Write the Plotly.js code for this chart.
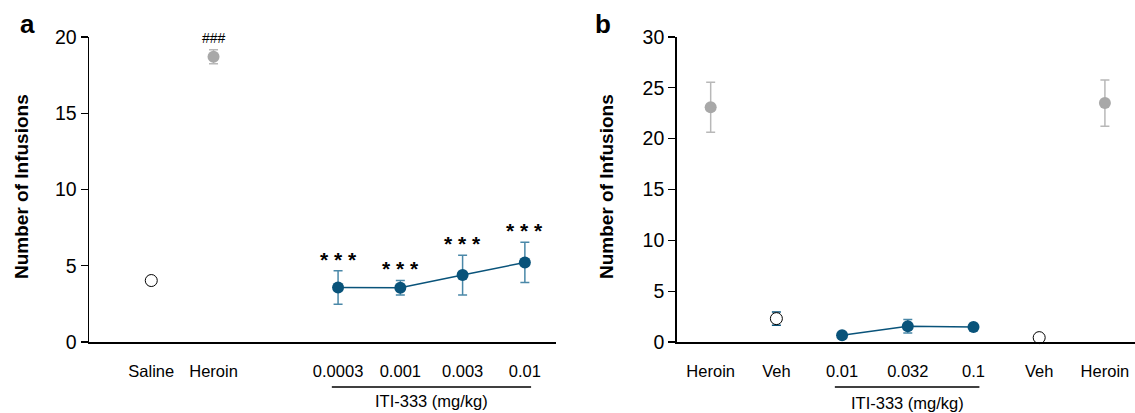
<!DOCTYPE html>
<html>
<head>
<meta charset="utf-8">
<script src="https://cdn.plot.ly/plotly-3.0.1.min.js"></script>
<style>
  html, body { margin: 0; padding: 0; background: #fff; }
  #chart { width: 1135px; height: 413px; }
</style>
</head>
<body>
<div id="chart"></div>
<script>
// ---------- Data ----------
// Panel a
const labelsA = ['Saline', 'Heroin', '0.0003', '0.001', '0.003', '0.01'];
const salineA = [4.03];
const heroinA = [18.71];
const heroinErrA = [0.46];
const itiA = [3.57, 3.56, 4.39, 5.22];
const itiErrA = [1.1, 0.48, 1.3, 1.32];
const sigA = ['* * *', '* * *', '* * *', '* * *'];
const heroinSigA = '###';

// Panel b
const labelsB = ['Heroin', 'Veh', '0.01', '0.032', '0.1', 'Veh', 'Heroin'];
const heroinB = [23.08, 23.5];
const heroinErrB = [2.46, 2.27];
const vehB = [2.3, 0.43];
const vehErrB = [0.65, 0];
const itiB = [0.66, 1.55, 1.48];
const itiErrB = [0.1, 0.67, 0.1];

const doseTitle = 'ITI-333 (mg/kg)';
const yTitle = 'Number of Infusions';

// ---------- Layout positions (not data) ----------
const posA = [0, 1, 3, 4, 5, 6];      // Saline, Heroin, 4 doses
const posB = [0, 1, 2, 3, 4, 5, 6];   // Heroin, Veh, 3 doses, Veh, Heroin

const TEAL = '#09537a';
const TEAL_ERR = '#4a88a8';
const GREY = '#a8a8a8';
const GREY_ERR = '#b8b8b8';
const FONT = 'Liberation Sans, Arial, Helvetica, sans-serif';

const traces = [
  // Panel a
  { x: [posA[0]], y: salineA, type: 'scatter', mode: 'markers', xaxis: 'x', yaxis: 'y',
    marker: { size: 12, color: '#ffffff', line: { color: '#000000', width: 1 } }, cliponaxis: false },
  { x: [posA[1]], y: heroinA, type: 'scatter', mode: 'markers', xaxis: 'x', yaxis: 'y',
    error_y: { type: 'data', array: heroinErrA, color: GREY_ERR, thickness: 1.5, width: 4.5 },
    marker: { size: 12, color: GREY }, cliponaxis: false },
  { x: posA.slice(2), y: itiA, type: 'scatter', mode: 'lines+markers', xaxis: 'x', yaxis: 'y',
    error_y: { type: 'data', array: itiErrA, color: TEAL_ERR, thickness: 1.5, width: 4.5 },
    line: { color: TEAL, width: 1.5 }, marker: { size: 12, color: TEAL }, cliponaxis: false },
  // Panel b
  { x: [posB[0], posB[6]], y: heroinB, type: 'scatter', mode: 'markers', xaxis: 'x2', yaxis: 'y2',
    error_y: { type: 'data', array: heroinErrB, color: GREY_ERR, thickness: 1.5, width: 4.5 },
    marker: { size: 12, color: GREY }, cliponaxis: false },
  { x: [posB[1], posB[5]], y: vehB, type: 'scatter', mode: 'markers', xaxis: 'x2', yaxis: 'y2',
    error_y: { type: 'data', array: vehErrB, color: TEAL, thickness: 1.5, width: 4.5 },
    marker: { size: 12, color: '#ffffff', line: { color: '#000000', width: 1 } }, cliponaxis: false },
  { x: posB.slice(2, 5), y: itiB, type: 'scatter', mode: 'lines+markers', xaxis: 'x2', yaxis: 'y2',
    error_y: { type: 'data', array: itiErrB, color: TEAL_ERR, thickness: 1.5, width: 4.5 },
    line: { color: TEAL, width: 1.5 }, marker: { size: 12, color: TEAL }, cliponaxis: false }
];

const W = 1135, H = 413;
const yBottomPx = 342, yTopPx = 37;

const commonY = {
  showgrid: false, zeroline: false, showline: true, linecolor: '#000', linewidth: 1.5,
  ticks: 'outside', ticklen: 7, tickwidth: 1.2, tickcolor: '#000',
  tickfont: { family: FONT, size: 19.5, color: '#000' }, automargin: false, fixedrange: true
};
const commonX = {
  showgrid: false, zeroline: false, showline: true, linecolor: '#000', linewidth: 1.5,
  ticks: '', tickfont: { family: FONT, size: 16.5, color: '#000' }, automargin: false,
  ticklabelstandoff: 14, fixedrange: true
};

const annotations = [];
// significance stars panel a
itiA.forEach((v, i) => {
  annotations.push({ x: posA[2 + i], y: v + itiErrA[i], xref: 'x', yref: 'y', text: '<b>' + sigA[i] + '</b>',
    showarrow: false, xanchor: 'center', yanchor: 'bottom', yshift: -2,
    font: { family: FONT, size: 21, color: '#000' } });
});
annotations.push({ x: posA[1], y: heroinA[0] + heroinErrA[0], xref: 'x', yref: 'y', text: heroinSigA,
  showarrow: false, xanchor: 'center', yanchor: 'bottom', yshift: 2, font: { family: FONT, size: 14, color: '#000' } });
// dose group labels
annotations.push({ x: (posA[2] + posA[5]) / 2, y: (H - 401) / H, xref: 'x', yref: 'paper', text: doseTitle,
  showarrow: false, xanchor: 'center', yanchor: 'middle', font: { family: FONT, size: 16.5, color: '#000' } });
annotations.push({ x: (posB[2] + posB[4]) / 2, y: (H - 403) / H, xref: 'x2', yref: 'paper', text: doseTitle,
  showarrow: false, xanchor: 'center', yanchor: 'middle', font: { family: FONT, size: 16.5, color: '#000' } });
// panel letters
annotations.push({ x: 27 / W, y: (H - 24) / H, xref: 'paper', yref: 'paper', text: '<b>a</b>',
  showarrow: false, xanchor: 'center', yanchor: 'middle', font: { family: FONT, size: 26, color: '#000' } });
annotations.push({ x: 603 / W, y: (H - 24) / H, xref: 'paper', yref: 'paper', text: '<b>b</b>',
  showarrow: false, xanchor: 'center', yanchor: 'middle', font: { family: FONT, size: 26, color: '#000' } });
// y titles
annotations.push({ x: 22 / W, y: (H - 187) / H, xref: 'paper', yref: 'paper', text: '<b>' + yTitle + '</b>',
  textangle: -90, showarrow: false, xanchor: 'center', yanchor: 'middle', font: { family: FONT, size: 19, color: '#000' } });
annotations.push({ x: 607 / W, y: (H - 187) / H, xref: 'paper', yref: 'paper', text: '<b>' + yTitle + '</b>',
  textangle: -90, showarrow: false, xanchor: 'center', yanchor: 'middle', font: { family: FONT, size: 19, color: '#000' } });

const shapes = [
  { type: 'line', xref: 'x', yref: 'paper', x0: posA[2] - 0.1, x1: posA[5] + 0.1,
    y0: (H - 387) / H, y1: (H - 387) / H, line: { color: '#000', width: 1.5 } },
  { type: 'line', xref: 'x2', yref: 'paper', x0: posB[2] - 0.11, x1: posB[4] + 0.09,
    y0: (H - 387) / H, y1: (H - 387) / H, line: { color: '#000', width: 1.5 } }
];

const layout = {
  width: W, height: H,
  margin: { l: 0, r: 0, t: 0, b: 0, pad: 0 },
  paper_bgcolor: '#fff', plot_bgcolor: '#fff',
  showlegend: false,
  font: { family: FONT, color: '#000' },
  xaxis: Object.assign({}, commonX, { domain: [89 / W, 556 / W], range: [-1, 6.5],
    tickvals: posA, ticktext: labelsA, anchor: 'y' }),
  yaxis: Object.assign({}, commonY, { domain: [(H - yBottomPx) / H, (H - yTopPx) / H], range: [0, 20],
    tickvals: [0, 5, 10, 15, 20], anchor: 'x' }),
  xaxis2: Object.assign({}, commonX, { domain: [676.7 / W, 1], range: [-0.517, 6.458],
    tickvals: posB, ticktext: labelsB, anchor: 'y2' }),
  yaxis2: Object.assign({}, commonY, { domain: [(H - yBottomPx) / H, (H - yTopPx) / H], range: [0, 30],
    tickvals: [0, 5, 10, 15, 20, 25, 30], anchor: 'x2' }),
  annotations: annotations,
  shapes: shapes
};

Plotly.newPlot('chart', traces, layout, { displayModeBar: false, staticPlot: true });
</script>
</body>
</html>
